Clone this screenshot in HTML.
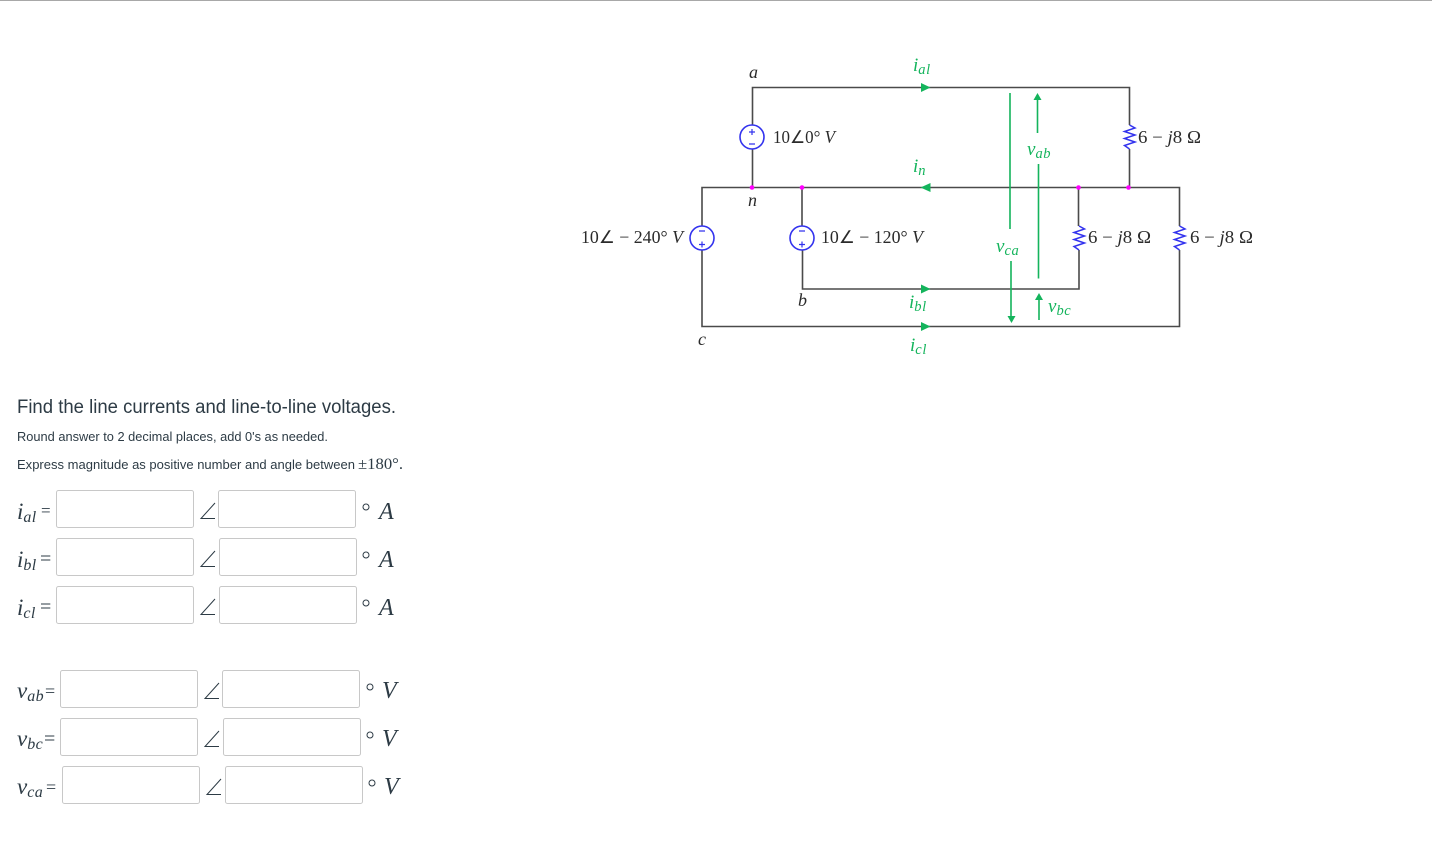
<!DOCTYPE html>
<html><head><meta charset="utf-8"><style>
html,body{margin:0;padding:0;background:#fff;width:1432px;height:859px;overflow:hidden}
svg{display:block}
.s{font-family:"Liberation Sans",sans-serif;fill:#2d3b45}
.c{font-family:"Liberation Serif",serif;fill:#2b2b2b;font-size:17.500px}
.ci{font-family:"Liberation Serif",serif;font-style:italic;fill:#2b2b2b;font-size:18px}
.g{font-family:"Liberation Serif",serif;font-style:italic;fill:#14b45c;font-size:19px}
.g tspan{font-size:14.500px;letter-spacing:.6px}
.m{font-family:"Liberation Serif",serif;font-style:italic;fill:#2d3b45;font-size:23px}
.m tspan{font-size:16px;letter-spacing:.4px}
.e{font-family:"Liberation Serif",serif;fill:#2d3b45;font-size:17px}
.u{font-family:"Liberation Serif",serif;font-style:italic;fill:#2d3b45;font-size:24px}
.b{fill:#fff;stroke:#c8c8c8;stroke-width:1}
</style></head><body>
<svg width="1432" height="859" viewBox="0 0 1432 859" xmlns="http://www.w3.org/2000/svg">
<rect x="0" y="0" width="1432" height="1" fill="#a8a8a8"/>

<!-- wires -->
<g fill="none" stroke="#4a4a4a" stroke-width="1.600">
<path d="M752.500 125V87.500H1129.500V125M1129.500 149V187.500M752.500 149V187.500"/>
<path d="M702 226V187.500H1179.500V226M1179.500 250V326.500H702V250"/>
<path d="M802 187.500V226M802.500 250V289H1079V250M1078.500 187.500V226"/>
</g>
<!-- sources -->
<g fill="#fff" stroke="#3333ee" stroke-width="1.600">
<circle cx="752" cy="137" r="12"/><circle cx="702" cy="238" r="12"/><circle cx="802" cy="238" r="12"/>
</g>
<g fill="none" stroke="#3333ee" stroke-width="1.200">
<path d="M749 132H755M752 129V135M749 144H755"/>
<path d="M699 231H705M699 244.500H705M702 241.500V247.500"/>
<path d="M799 231H805M799 244.500H805M802 241.500V247.500"/>
</g>
<!-- resistors -->
<g fill="none" stroke="#3333ee" stroke-width="1.500">
<path d="M1129.500 125L1135 128L1124.500 131.500L1135 135L1124.500 138.500L1135 142L1124.500 145.500L1129.500 149"/>
<path d="M1079 226L1084.500 229L1074 232.500L1084.500 236L1074 239.500L1084.500 243L1074 246.500L1079 250"/>
<path d="M1179.500 226L1185 229L1174.500 232.500L1185 236L1174.500 239.500L1185 243L1174.500 246.500L1179.500 250"/>
</g>
<!-- nodes -->
<g fill="#f0f"><circle cx="752" cy="187.500" r="2.300"/><circle cx="802" cy="187.500" r="2.300"/><circle cx="1078.500" cy="187.500" r="2.300"/><circle cx="1128.500" cy="187.500" r="2.300"/></g>
<!-- green -->
<g fill="none" stroke="#14b45c" stroke-width="1.600">
<path d="M1010 93V229M1011 261V318"/>
<path d="M1037.500 98V133M1038.500 164V278.500M1039 298V320"/>
</g>
<g fill="#14b45c">
<path d="M921 83L930.500 87.500L921 92Z"/>
<path d="M930.500 183L920.500 187.500L930.500 192Z"/>
<path d="M921 284.500L930.500 289L921 293.500Z"/>
<path d="M921 322L930.500 326.500L921 331Z"/>
<path d="M1033.500 100L1037.500 93L1041.500 100Z"/>
<path d="M1035 300L1039 293L1043 300Z"/>
<path d="M1007.500 316L1011.500 323L1015.500 316Z"/>
</g>
<!-- circuit labels -->
<text class="ci" x="749" y="78">a</text>
<text class="ci" x="748" y="206">n</text>
<text class="ci" x="798" y="306">b</text>
<text class="ci" x="698" y="345">c</text>
<text class="c" x="773" y="143" textLength="62" lengthAdjust="spacingAndGlyphs">10∠0° <tspan font-style="italic">V</tspan></text>
<text class="c" x="581" y="243" textLength="102" lengthAdjust="spacingAndGlyphs">10∠ − 240° <tspan font-style="italic">V</tspan></text>
<text class="c" x="821" y="243" textLength="102" lengthAdjust="spacingAndGlyphs">10∠ − 120° <tspan font-style="italic">V</tspan></text>
<text class="c" x="1138" y="143" textLength="63" lengthAdjust="spacingAndGlyphs">6 − <tspan font-style="italic">j</tspan>8 Ω</text>
<text class="c" x="1088" y="243" textLength="63" lengthAdjust="spacingAndGlyphs">6 − <tspan font-style="italic">j</tspan>8 Ω</text>
<text class="c" x="1190" y="243" textLength="63" lengthAdjust="spacingAndGlyphs">6 − <tspan font-style="italic">j</tspan>8 Ω</text>
<text class="g" x="913" y="71">i<tspan dy="3">al</tspan></text>
<text class="g" x="913" y="172">i<tspan dy="3">n</tspan></text>
<text class="g" x="909" y="308">i<tspan dy="3">bl</tspan></text>
<text class="g" x="910" y="351">i<tspan dy="3">cl</tspan></text>
<text class="g" x="1027" y="155">v<tspan dy="3">ab</tspan></text>
<text class="g" x="996" y="252">v<tspan dy="3">ca</tspan></text>
<text class="g" x="1048" y="312">v<tspan dy="3">bc</tspan></text>

<!-- text -->
<text class="s" x="17" y="413" font-size="19" textLength="379" lengthAdjust="spacingAndGlyphs">Find the line currents and line-to-line voltages.</text>
<text class="s" x="17" y="441" font-size="13" textLength="311" lengthAdjust="spacingAndGlyphs">Round answer to 2 decimal places, add 0's as needed.</text>
<text class="s" x="17" y="469" font-size="13" textLength="338" lengthAdjust="spacingAndGlyphs">Express magnitude as positive number and angle between</text>
<text x="358" y="469" font-family="Liberation Serif,serif" font-size="16" fill="#2d3b45" textLength="45" lengthAdjust="spacingAndGlyphs">±180°.</text>

<!-- boxes -->
<g class="b">
<rect x="56.500" y="490.500" width="137" height="37" rx="2"/><rect x="218.500" y="490.500" width="137" height="37" rx="2"/>
<rect x="56.500" y="538.500" width="137" height="37" rx="2"/><rect x="219.500" y="538.500" width="137" height="37" rx="2"/>
<rect x="56.500" y="586.500" width="137" height="37" rx="2"/><rect x="219.500" y="586.500" width="137" height="37" rx="2"/>
<rect x="60.500" y="670.500" width="137" height="37" rx="2"/><rect x="222.500" y="670.500" width="137" height="37" rx="2"/>
<rect x="60.500" y="718.500" width="137" height="37" rx="2"/><rect x="223.500" y="718.500" width="137" height="37" rx="2"/>
<rect x="62.500" y="766.500" width="137" height="37" rx="2"/><rect x="225.500" y="766.500" width="137" height="37" rx="2"/>
</g>
<!-- angle glyphs -->
<g fill="none" stroke="#2d3b45" stroke-width="1">
<path d="M215 503L201 518.500H215"/>
<path d="M215 551L201 566.500H215"/>
<path d="M215 599L201 614.500H215"/>
<path d="M219 683L205 698.500H219"/>
<path d="M219 731L205 746.500H219"/>
<path d="M221 779L207 794.500H221"/>
<circle cx="366" cy="507" r="3"/>
<circle cx="366" cy="555" r="3"/>
<circle cx="366" cy="603" r="3"/>
<circle cx="370" cy="687" r="3"/>
<circle cx="370" cy="735" r="3"/>
<circle cx="372" cy="783" r="3"/>
</g>
<!-- math labels -->
<text class="m" x="17" y="519">i<tspan dy="3">al</tspan></text><text class="e" x="41" y="516">=</text>
<text class="m" x="17" y="567">i<tspan dy="3">bl</tspan></text><text class="e" x="40" y="565" style="font-size:20px">=</text>
<text class="m" x="17" y="615">i<tspan dy="3">cl</tspan></text><text class="e" x="40" y="613" style="font-size:20px">=</text>
<text class="m" x="17" y="698">v<tspan dy="3">ab</tspan></text><text class="e" x="45" y="697" style="font-size:18px">=</text>
<text class="m" x="17" y="746">v<tspan dy="3">bc</tspan></text><text class="e" x="44" y="745" style="font-size:20px">=</text>
<text class="m" x="17" y="794">v<tspan dy="3">ca</tspan></text><text class="e" x="46" y="793" style="font-size:18px">=</text>
<text class="u" x="379" y="519">A</text>
<text class="u" x="379" y="567">A</text>
<text class="u" x="379" y="615">A</text>
<text class="u" x="382" y="698">V</text>
<text class="u" x="382" y="746">V</text>
<text class="u" x="384" y="794">V</text>
</svg>
</body></html>
